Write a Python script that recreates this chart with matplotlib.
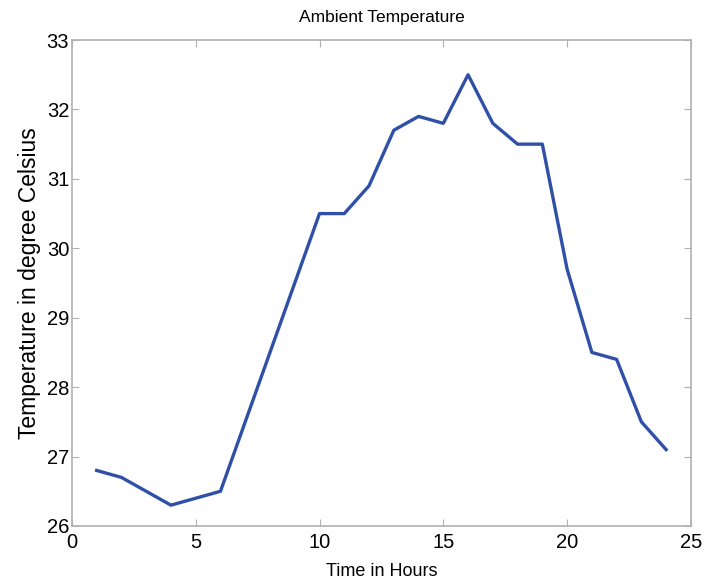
import matplotlib
matplotlib.use("Agg")
import matplotlib.pyplot as plt

hours = list(range(1, 25))
temps = [26.8, 26.7, 26.5, 26.3, 26.4, 26.5, 27.5, 28.5, 29.5, 30.5, 30.5, 30.9,
         31.7, 31.9, 31.8, 32.5, 31.8, 31.5, 31.5, 29.7, 28.5, 28.4, 27.5, 27.1]
xticks = [0, 5, 10, 15, 20, 25]
yticks = [26, 27, 28, 29, 30, 31, 32, 33]

plt.rcParams['font.family'] = ['Liberation Sans', 'DejaVu Sans']

fig = plt.figure(figsize=(7.05, 5.86), dpi=100)
ax = fig.add_axes([0.102, 0.1024, 0.878, 0.8293])

ax.plot(hours, temps, color='#3050a8', linewidth=2.4)

ax.set_xlim(0, 25)
ax.set_ylim(26, 33)
ax.set_xticks(xticks)
ax.set_yticks(yticks)
ax.tick_params(direction='in', top=True, right=True, length=5, color='#b0b0b0',
               labelsize=14.5)
ax.tick_params(axis='y', pad=2)
ax.tick_params(axis='x', pad=5)
for s in ax.spines.values():
    s.set_color('#b0b0b0')
    s.set_linewidth(1.2)

ax.set_title('Ambient Temperature', fontsize=12.5, pad=13)
ax.set_xlabel('Time in Hours', fontsize=13, labelpad=8)
ax.set_ylabel('Temperature in degree Celsius', fontsize=16.5, labelpad=4)

fig.savefig('out.png', dpi=100)
